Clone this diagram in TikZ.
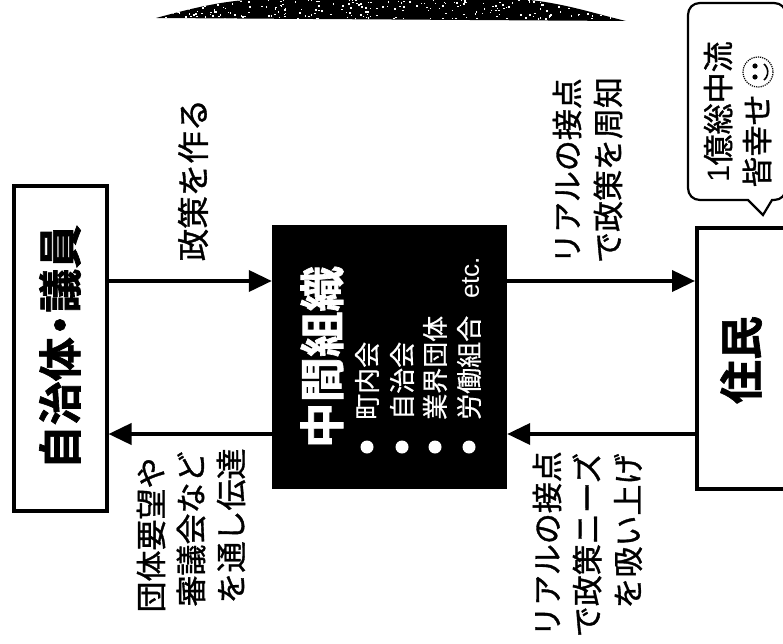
\documentclass[tikz,border=0pt]{standalone}
\usepackage{fontspec}
\usetikzlibrary{arrows.meta}
\newfontfamily\jp{Noto Sans CJK JP}[FakeBold=0.5]
\newfontfamily\jph{Noto Sans CJK JP Bold}[FakeBold=1.5]
\newfontfamily\jpm{Noto Sans CJK JP}[FakeBold=1.1]
\newfontfamily\lat{Liberation Sans}
\tikzset{
  lbl/.style={rotate=90,inner sep=0pt,font=\jpm\fontsize{31}{36}\selectfont,text=black},
  sub/.style={rotate=90,inner sep=0pt,anchor=west,font=\jp\fontsize{26}{30}\selectfont,text=white},
  title/.style={rotate=90,inner sep=0pt,font=\jph\fontsize{44}{50}\selectfont},
  framebox/.style={draw=black,line width=4pt,fill=white,inner sep=0pt},
  flow/.style={draw=black,line width=3.8pt,-{Triangle[length=23pt,width=21pt]}},
  dot/.style={circle,fill=white,inner sep=0pt,minimum size=13pt}
}
\begin{document}
\begin{tikzpicture}[x=1pt,y=-1pt]
\useasboundingbox (0,0) rectangle (783,644);
\fill[white] (0,0) rectangle (783,644);
% top blob
\begin{scope}
\clip (156,18) .. controls (215,2) and (240,-2) .. (300,-2) -- (490,-2) .. controls (550,-2) and (580,10) .. (626,21) -- cycle;
\fill[black] (150,-2) rectangle (630,22);
\pgfmathsetseed{7}
\foreach \i in {1,...,260}{
  \pgfmathsetmacro{\px}{150+480*rnd}
  \pgfmathsetmacro{\py}{20*rnd}
  \fill[white] (\px,\py) rectangle ++(1.5,-1.5);
}
\end{scope}
% boxes
\node[framebox,minimum width=93pt,minimum height=324pt] (gov) at (60,348.5) {};
\node[title] (govt) at (60,347) {自治体\kern-0.22em・\kern-0.22em 議員};
\node[fill=black,inner sep=0pt,minimum width=235pt,minimum height=264pt] (mid) at (389.5,357) {};
\node[framebox,minimum width=120pt,minimum height=261pt] (res) at (757,358.5) {};
\node[title] (rest) at (741,360) {住民};
% connector levels
\coordinate (upper) at (0,281);
\coordinate (lower) at (0,434);
\draw[flow] (gov.east |- upper) -- (mid.west |- upper);
\draw[flow] (mid.west |- lower) -- (gov.east |- lower);
\draw[flow] (mid.east |- upper) -- (res.west |- upper);
\draw[flow] (res.west |- lower) -- (mid.east |- lower);
% middle contents
\node[title,text=white,font=\jph\fontsize{45.5}{50}\selectfont] (midt) at (322,357) {中間組織};
\node[dot] (d1) at (367,447) {};
\node[dot] (d2) at (402,447) {};
\node[dot] (d3) at (435,447) {};
\node[dot] (d4) at (469,447) {};
\node[sub] (s1) at (367,420) {町内会};
\node[sub] (s2) at (402,420) {自治会};
\node[sub] (s3) at (435,420) {業界団体};
\node[sub] (s4) at (469,420) {労働組合\kern0.65em{\lat etc.}};
% labels
\node[lbl,font=\jpm\fontsize{32.5}{36}\selectfont] (a1) at (193,180) {政策を作る};
\node[lbl] (b1) at (151,535) {団体要望や};
\node[lbl] (b2) at (191,529) {審議会など};
\node[lbl] (b3) at (231,526) {を通し伝達};
\node[lbl] (c1) at (567,171) {リアルの接点};
\node[lbl] (c2) at (608,170) {で政策を周知};
\node[lbl] (e1) at (547,544) {リアルの接点};
\node[lbl] (e2) at (587,545) {で政策ニーズ};
\node[lbl] (e3) at (628,531) {を吸い上げ};
% speech bubble
\draw[black,line width=2.2pt,fill=white,line join=miter]
  (700,3) -- (774,3) .. controls (781,3) and (786,8) .. (786,15) -- (786,188) .. controls (786,195) and (781,200) .. (774,200)
  -- (772,200) -- (763,215) -- (748,200) -- (700,200) .. controls (693,200) and (688,195) .. (688,188)
  -- (688,15) .. controls (688,8) and (693,3) .. (700,3) -- cycle;
\node[lbl] (q1) at (718,112) {{\lat 1}億総中流};
\node[lbl] (q2) at (757,141) {皆幸せ};
\coordinate (face) at (758,72);
\draw[black,line width=1.2pt,densely dotted] (face) circle (15);
\fill[black] (755,66) circle (2.6) (755,77) circle (2.6);
\draw[black,line width=1.6pt] (764,64) arc[start angle=-50,end angle=50,radius=10.5];
\end{tikzpicture}
\end{document}
